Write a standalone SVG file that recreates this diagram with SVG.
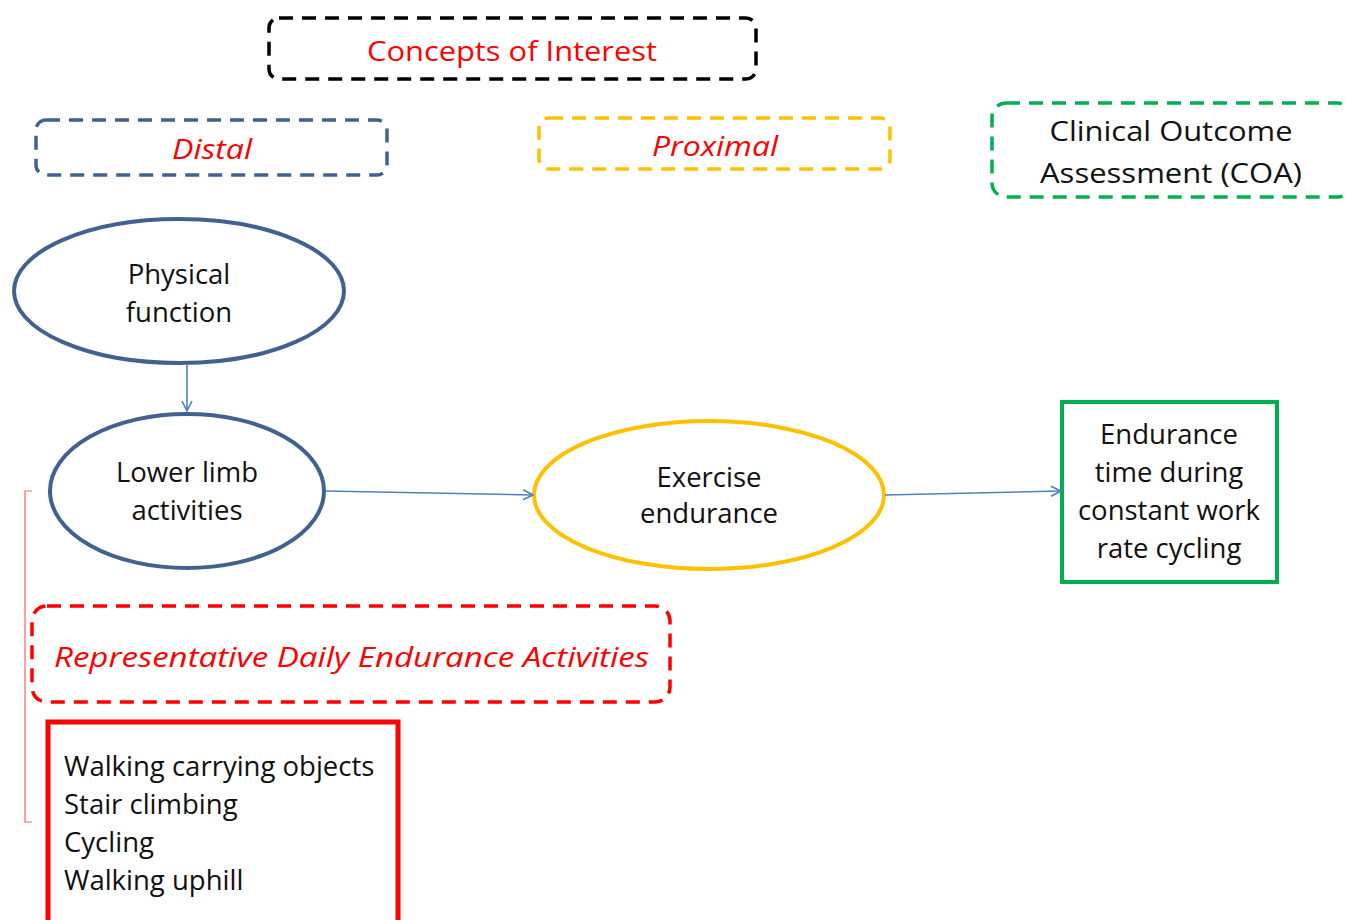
<svg xmlns="http://www.w3.org/2000/svg" width="1346" height="920" viewBox="0 0 1346 920">
<defs>
<style>
.t{font-family:"Open Sans","Liberation Sans",sans-serif;font-size:27.5px;fill:#111;text-anchor:middle}
.s{text-anchor:start}
.r{fill:#ff0000}
.i{font-style:italic}
.dash{fill:none;stroke-width:3.5;stroke-dasharray:14 9}
.conn{fill:none;stroke:#4f81bd;stroke-width:1.6}
</style>
<marker id="ah" viewBox="0 0 12 12" refX="11" refY="6" markerWidth="12" markerHeight="12" markerUnits="userSpaceOnUse" orient="auto">
<path d="M1,1 L11,6 L1,11" fill="none" stroke="#4f81bd" stroke-width="1.6"/>
</marker>
</defs>
<rect width="1346" height="920" fill="#fff"/>
<g id="concepts">
<rect class="dash" x="269" y="18" width="487" height="61" rx="10" stroke="#000"/>
<text class="t r" x="512" y="61" font-size="34" textLength="290" lengthAdjust="spacingAndGlyphs">Concepts of Interest</text>
</g>
<g id="distal">
<rect class="dash" x="36" y="120" width="351" height="55" rx="10" stroke="#41618f"/>
<text class="t r i" x="212" y="159" font-size="33" textLength="80" lengthAdjust="spacingAndGlyphs">Distal</text>
</g>
<g id="proximal">
<rect class="dash" x="539" y="118" width="351" height="51" rx="10" stroke="#ffc000"/>
<text class="t r i" x="715" y="156" font-size="33" textLength="126" lengthAdjust="spacingAndGlyphs">Proximal</text>
</g>
<g id="coa">
<rect class="dash" x="992" y="103" width="360" height="94" rx="14" stroke="#00b050"/>
<text class="t" x="1171" y="141" font-size="32" textLength="243" lengthAdjust="spacingAndGlyphs">Clinical Outcome</text>
<text class="t" x="1171" y="183" font-size="32" textLength="262" lengthAdjust="spacingAndGlyphs">Assessment (COA)</text>
</g>
<g id="physical">
<ellipse cx="179" cy="291" rx="165" ry="72" fill="none" stroke="#41618f" stroke-width="4"/>
<text class="t" x="179" y="284">Physical</text>
<text class="t" x="179" y="322">function</text>
</g>
<g id="lowerlimb">
<ellipse cx="187" cy="491" rx="137" ry="77" fill="none" stroke="#41618f" stroke-width="4"/>
<text class="t" x="187" y="482">Lower limb</text>
<text class="t" x="187" y="520">activities</text>
</g>
<g id="exercise">
<ellipse cx="709" cy="495" rx="175" ry="74" fill="none" stroke="#ffc000" stroke-width="4"/>
<text class="t" x="709" y="487" font-size="25">Exercise</text>
<text class="t" x="709" y="523" font-size="25">endurance</text>
</g>
<g id="endurance">
<rect x="1062" y="402" width="215" height="180" fill="none" stroke="#00b050" stroke-width="4"/>
<text class="t" x="1169" y="444">Endurance</text>
<text class="t" x="1169" y="482">time during</text>
<text class="t" x="1169" y="520">constant work</text>
<text class="t" x="1169" y="558">rate cycling</text>
</g>
<g id="bracket">
<path d="M32,491 L25,491 L25,822 L32,822" fill="none" stroke="#ff6060" stroke-width="1.2"/>
</g>
<g id="representative">
<rect class="dash" x="32" y="606" width="638" height="96" rx="15" stroke="#ff0000"/>
<text class="t r i s" x="54" y="667" font-size="33" textLength="595" lengthAdjust="spacingAndGlyphs">Representative Daily Endurance Activities</text>
</g>
<g id="activities">
<rect x="48" y="722" width="350" height="210" fill="none" stroke="#ff0000" stroke-width="5"/>
<text class="t s" x="64" y="776">Walking carrying objects</text>
<text class="t s" x="64" y="814">Stair climbing</text>
<text class="t s" x="64" y="852">Cycling</text>
<text class="t s" x="64" y="890">Walking uphill</text>
</g>
<g id="connectors">
<line class="conn" x1="187" y1="365" x2="187" y2="411" marker-end="url(#ah)"/>
<line class="conn" x1="325" y1="491" x2="533" y2="495" marker-end="url(#ah)"/>
<line class="conn" x1="885" y1="495" x2="1061" y2="491" marker-end="url(#ah)"/>
</g>
</svg>
